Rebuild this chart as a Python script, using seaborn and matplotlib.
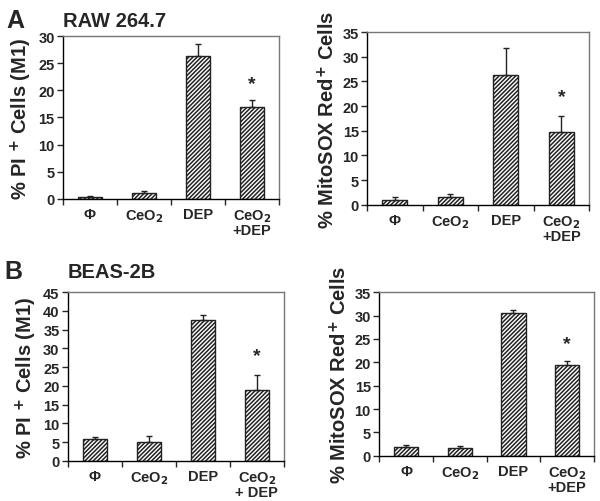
import matplotlib
matplotlib.use('Agg')
import matplotlib.pyplot as plt
import seaborn as sns
import numpy as np

sns.set_style('white')
plt.rcParams['font.family'] = ['Liberation Sans', 'DejaVu Sans']
plt.rcParams['font.weight'] = 'bold'
plt.rcParams['hatch.linewidth'] = 1.1

cats = ['Φ', 'CeO$_\\mathbf{2}$', 'DEP', 'CeO$_\\mathbf{2}$\n+DEP']
cats_b = ['Φ', 'CeO$_\\mathbf{2}$', 'DEP', 'CeO$_\\mathbf{2}$\n+ DEP']

# panel A: RAW 264.7
pi_raw = [0.4, 1.1, 26.3, 16.9]
pi_raw_err = [0.2, 0.4, 2.2, 1.4]
mito_raw = [1.0, 1.6, 26.3, 14.7]
mito_raw_err = [0.6, 0.5, 5.4, 3.4]

# panel B: BEAS-2B
pi_beas = [5.7, 5.0, 37.5, 19.0]
pi_beas_err = [0.6, 1.5, 1.3, 4.0]
mito_beas = [1.9, 1.6, 30.6, 19.4]
mito_beas_err = [0.5, 0.6, 0.5, 0.9]

fig = plt.figure(figsize=(6, 5.02), dpi=100)

def panel(rect, labels, vals, errs, ymax, ylabel, star_gap):
    ax = fig.add_axes(rect)
    sns.barplot(x=list(range(4)), y=vals, ax=ax, color='white', edgecolor='#222222',
                linewidth=1.0, width=0.45)
    for p in ax.patches:
        p.set_hatch('////////')
    ax.errorbar(range(4), vals, yerr=[np.zeros(4), errs], fmt='none', ecolor='#222222',
                elinewidth=1.0, capsize=2.5, capthick=1.0)
    ax.text(3, vals[3] + errs[3] + star_gap, '*', ha='center', va='center', fontsize=14, fontweight='bold')
    ax.set_xlim(-0.5, 3.5)
    ax.set_ylim(0, ymax)
    ax.set_yticks(np.arange(0, ymax + 1, 5))
    ax.tick_params(axis='y', direction='out', length=4, width=1, labelsize=10.5, pad=2, left=True)
    ax.set_xticks(range(4))
    ax.set_xticklabels(labels, fontsize=10.5, fontweight='bold', linespacing=0.95)
    ax.set_xticks([-0.5, 0.5, 1.5, 2.5, 3.5], minor=True)
    ax.tick_params(axis='x', which='major', length=0, pad=6)
    ax.tick_params(axis='x', which='minor', direction='out', length=4, width=1, bottom=True)
    for lab in ax.get_yticklabels():
        lab.set_fontweight('bold')
    ax.set_ylabel(ylabel, fontsize=14.5, fontweight='bold', labelpad=3)
    for s in ['left', 'bottom']:
        ax.spines[s].set_color('black')
        ax.spines[s].set_linewidth(1.0)
    for s in ['top', 'right']:
        ax.spines[s].set_color('#777777')
        ax.spines[s].set_linewidth(1.0)
    return ax

panel([0.105, 0.602, 0.360, 0.324], cats, pi_raw, pi_raw_err, 30, '% PI $^\\mathbf{+}$ Cells (M1)', 3.0)
panel([0.612, 0.590, 0.370, 0.344], cats, mito_raw, mito_raw_err, 35, '% MitoSOX Red$^\\mathbf{+}$ Cells', 3.8)
panel([0.113, 0.080, 0.360, 0.336], cats_b, pi_beas, pi_beas_err, 45, '% PI $^\\mathbf{+}$ Cells (M1)', 5.0)
panel([0.632, 0.090, 0.358, 0.326], cats, mito_beas, mito_beas_err, 35, '% MitoSOX Red$^\\mathbf{+}$ Cells', 3.6)

fig.text(0.010, 0.958, 'A', fontsize=18, fontweight='bold', va='center')
fig.text(0.105, 0.958, 'RAW 264.7', fontsize=14.5, fontweight='bold', va='center')
fig.text(0.008, 0.458, 'B', fontsize=18, fontweight='bold', va='center')
fig.text(0.113, 0.458, 'BEAS-2B', fontsize=14.5, fontweight='bold', va='center')

fig.savefig('out.png', dpi=100)
